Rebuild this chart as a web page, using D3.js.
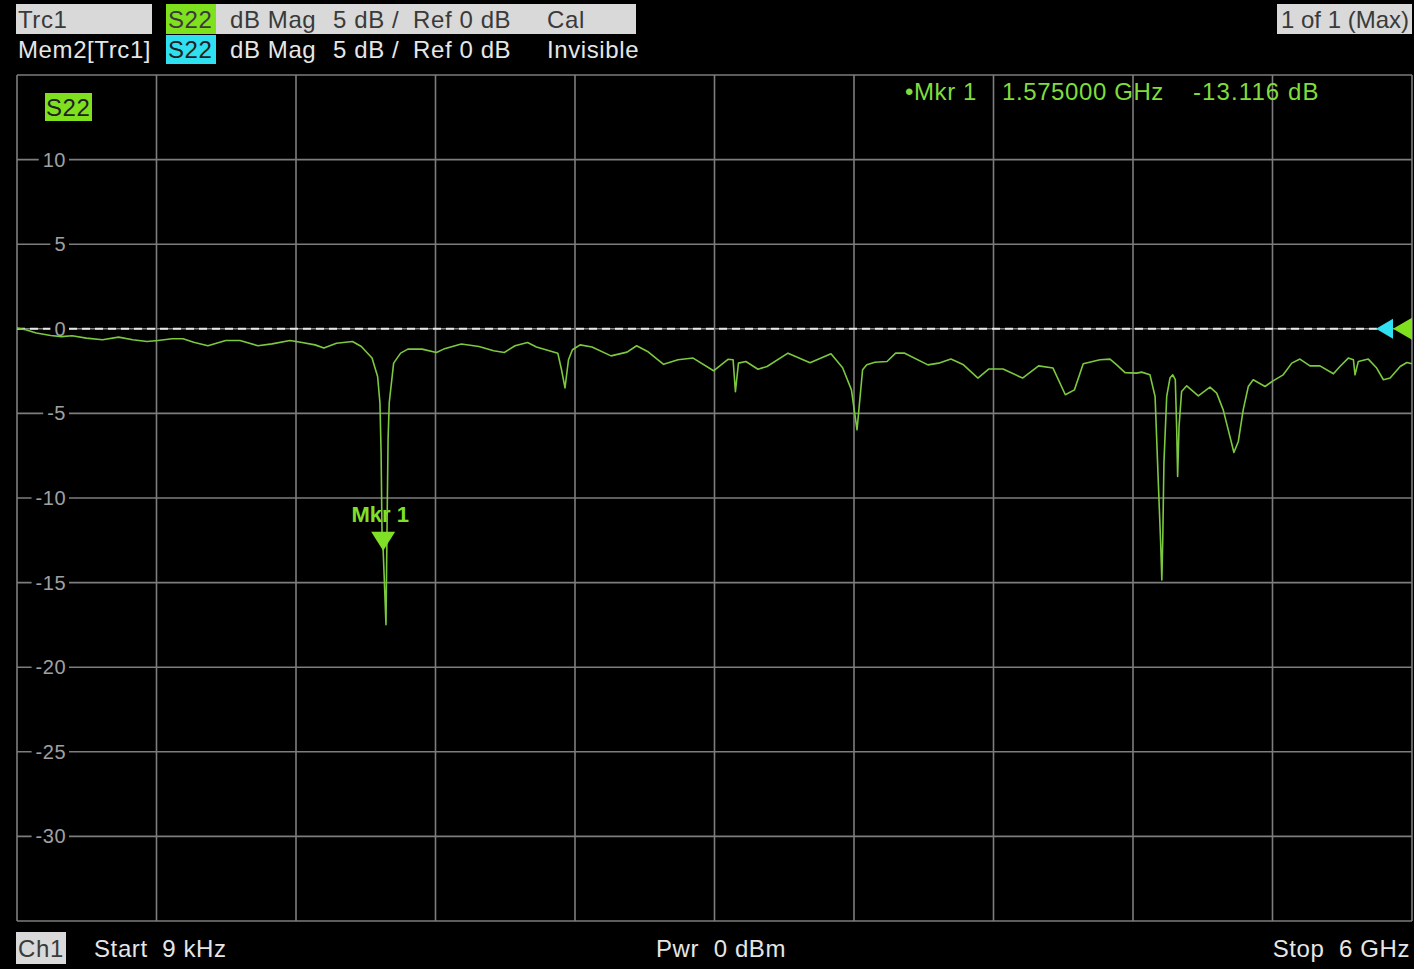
<!DOCTYPE html>
<html>
<head>
<meta charset="utf-8">
<script src="https://cdn.jsdelivr.net/npm/d3@7"></script>
<style>
  html, body { margin: 0; padding: 0; background: #ffffff; }
  svg { display: block; }
  .hdr { font-family: "Liberation Sans", Arial, sans-serif; font-size: 24px; letter-spacing: 0.6px; white-space: pre; }
  .tick { font-family: "Liberation Sans", Arial, sans-serif; font-size: 20px; fill: #a0a0a0; letter-spacing: 0.5px; }
</style>
</head>
<body>
<div class="canvas"></div>
<script>
// sweep: 9 kHz .. 6 GHz, S22 in dB
var startGHz = 0.000009, stopGHz = 6;
var freqGHz = [0.000009, 0.037, 0.083, 0.145, 0.191, 0.237, 0.298, 0.368, 0.437, 0.498, 0.559, 0.606, 0.667, 0.714, 0.760, 0.821, 0.898, 0.959, 1.036, 1.097,
  1.174, 1.220, 1.282, 1.320, 1.374, 1.443, 1.481, 1.527, 1.551, 1.561, 1.566, 1.570, 1.575, 1.579, 1.587, 1.591, 1.596, 1.601, 1.620, 1.650,
  1.681, 1.742, 1.804, 1.835, 1.911, 1.987, 2.050, 2.096, 2.142, 2.196, 2.234, 2.326, 2.342, 2.357, 2.372, 2.389, 2.422, 2.473, 2.555, 2.624,
  2.665, 2.712, 2.781, 2.843, 2.908, 2.996, 3.058, 3.080, 3.090, 3.103, 3.135, 3.187, 3.226, 3.316, 3.411, 3.501, 3.551, 3.589, 3.613, 3.637,
  3.655, 3.690, 3.742, 3.779, 3.818, 3.918, 3.964, 4.017, 4.071, 4.133, 4.179, 4.241, 4.325, 4.394, 4.456, 4.509, 4.548, 4.586, 4.658, 4.701,
  4.730, 4.766, 4.816, 4.837, 4.873, 4.895, 4.909, 4.919, 4.924, 4.928, 4.933, 4.945, 4.959, 4.971, 4.982, 4.988, 4.992, 4.998, 5.009, 5.031,
  5.081, 5.131, 5.160, 5.188, 5.217, 5.234, 5.253, 5.274, 5.296, 5.317, 5.368, 5.404, 5.446, 5.483, 5.518, 5.561, 5.604, 5.662, 5.690, 5.726,
  5.748, 5.755, 5.769, 5.812, 5.848, 5.877, 5.906, 5.949, 5.978, 6.000];
var magDb = [0.04, -0.06, -0.25, -0.40, -0.46, -0.41, -0.55, -0.65, -0.49, -0.65, -0.75, -0.69, -0.59, -0.59, -0.79, -1.00, -0.69, -0.69, -1.00, -0.89,
  -0.69, -0.79, -0.95, -1.14, -0.85, -0.75, -1.05, -1.73, -2.82, -4.37, -7.33, -12.06, -13.116, -14.54, -17.49, -12.47, -6.56, -4.37, -2.03, -1.44,
  -1.20, -1.20, -1.40, -1.20, -0.90, -1.05, -1.30, -1.40, -1.00, -0.81, -1.08, -1.44, -2.42, -3.49, -1.83, -1.24, -0.95, -1.08, -1.60, -1.38,
  -1.00, -1.34, -2.10, -1.83, -1.73, -2.48, -1.80, -1.83, -3.72, -2.03, -1.93, -2.39, -2.23, -1.44, -2.01, -1.48, -2.30, -3.61, -5.97, -2.42,
  -2.13, -1.98, -1.93, -1.44, -1.44, -2.13, -2.03, -1.79, -2.13, -2.91, -2.38, -2.38, -2.91, -2.19, -2.32, -3.90, -3.61, -2.07, -1.83, -1.79,
  -2.13, -2.59, -2.62, -2.56, -2.72, -4.00, -9.12, -12.67, -14.85, -12.47, -7.94, -4.00, -2.91, -2.72, -3.01, -5.97, -8.73, -5.77, -3.71, -3.37,
  -3.96, -3.45, -3.80, -4.79, -6.37, -7.31, -6.66, -4.79, -3.41, -3.01, -3.41, -3.06, -2.72, -2.03, -1.79, -2.19, -2.19, -2.66, -2.23, -1.73,
  -1.83, -2.72, -1.93, -1.79, -2.32, -3.01, -2.91, -2.23, -1.99, -2.07];

var yTicks = [10, 5, 0, -5, -10, -15, -20, -25, -30];
var refDb = 0;
var markerGHz = 1.575, markerDb = -13.116;

var W = 1428, H = 969;
var svg = d3.select(".canvas").append("svg")
            .attr("width", W)
            .attr("height", H);

svg.append("rect")
   .attr("x", 0).attr("y", 0)
   .attr("width", 1414).attr("height", H)
   .attr("fill", "#000");

var x = d3.scaleLinear().domain([startGHz, stopGHz]).range([17, 1412]);
var y = d3.scaleLinear().domain([-35, 15]).range([921, 75]);

// GRID
var grid = svg.append("g").attr("stroke", "#7d7d7d").attr("stroke-width", 1.6);
d3.range(0, 11).forEach(function(i){
  var f = startGHz + i * (stopGHz - startGHz) / 10;
  grid.append("line")
      .attr("x1", x(f)).attr("x2", x(f))
      .attr("y1", y(15)).attr("y2", y(-35));
});
d3.range(-35, 16, 5).forEach(function(v){
  grid.append("line")
      .attr("x1", x(startGHz)).attr("x2", x(stopGHz))
      .attr("y1", y(v)).attr("y2", y(v));
});

// REF LINE (dashed) + ref arrows
svg.append("line")
   .attr("x1", x(startGHz)).attr("x2", 1378)
   .attr("y1", y(refDb)).attr("y2", y(refDb))
   .attr("stroke", "#e8e8e8")
   .attr("stroke-width", 2)
   .attr("stroke-dasharray", "8,5");

var ry = y(refDb);
svg.append("path")
   .attr("d", "M1376," + ry + " L1393," + (ry - 10) + " L1393," + (ry + 10) + " Z")
   .attr("fill", "#30e0f0");
svg.append("path")
   .attr("d", "M1393," + ry + " L1412," + (ry - 11) + " L1412," + (ry + 11) + " Z")
   .attr("fill", "#7fe01e");

// Y TICK LABELS with black gap
yTicks.forEach(function(v){
  var t = svg.append("text")
     .attr("class", "tick")
     .attr("x", 66)
     .attr("y", y(v) + 7)
     .attr("text-anchor", "end")
     .text(v);
  var bb = t.node().getBBox();
  svg.insert("rect", function(){ return t.node(); })
     .attr("x", bb.x - 4).attr("y", y(v) - 3)
     .attr("width", bb.width + 7).attr("height", 6)
     .attr("fill", "#000");
});

// TRACE
var pts = freqGHz.map(function(f, i){ return [f, magDb[i]]; });
var line = d3.line()
             .x(function(d){ return x(d[0]); })
             .y(function(d){ return y(d[1]); });

svg.append("path")
   .datum(pts)
   .attr("d", line)
   .attr("fill", "none")
   .attr("stroke", "#7cc83e")
   .attr("stroke-width", 1.6)
   .attr("stroke-linejoin", "round");

// MARKER
var mx = x(markerGHz), my = y(markerDb);
svg.append("path")
   .attr("d", "M" + (mx - 12) + "," + (my - 19) + " L" + (mx + 12) + "," + (my - 19) + " L" + mx + "," + my + " Z")
   .attr("fill", "#80e028");
svg.append("text")
   .attr("x", mx - 3)
   .attr("y", my - 29)
   .attr("text-anchor", "middle")
   .style("font-family", "Liberation Sans, Arial, sans-serif")
   .style("font-size", "22px")
   .style("font-weight", "bold")
   .style("fill", "#80e028")
   .text("Mkr 1");

// marker readout
var readout = [
  {x: 905, text: "\u2022Mkr 1"},
  {x: 1002, text: "1.575000 GHz"},
  {x: 1193, text: markerDb.toFixed(3) + " dB"}
];
readout.forEach(function(r){
  svg.append("text")
     .attr("class", "hdr")
     .attr("x", r.x)
     .attr("y", 100)
     .style("fill", "#80dc3c")
     .style("letter-spacing", r.x > 1100 ? "1.1px" : null)
     .text(r.text);
});

// S22 tag in plot
svg.append("rect")
   .attr("x", 45).attr("y", 93).attr("width", 47).attr("height", 28)
   .attr("fill", "#7fe01e");
svg.append("text")
   .attr("class", "hdr")
   .attr("x", 46).attr("y", 116)
   .style("fill", "#202020")
   .text("S22");

// HEADER ROW 1
svg.append("rect").attr("x", 16).attr("y", 4).attr("width", 136).attr("height", 30).attr("fill", "#d9d9d9");
svg.append("rect").attr("x", 166).attr("y", 4).attr("width", 50).attr("height", 30).attr("fill", "#7fe01e");
svg.append("rect").attr("x", 216).attr("y", 4).attr("width", 420).attr("height", 30).attr("fill", "#d9d9d9");

var row1 = [
  {x: 18, text: "Trc1"},
  {x: 168, text: "S22"},
  {x: 230, text: "dB Mag"},
  {x: 333, text: "5 dB /"},
  {x: 413, text: "Ref 0 dB"},
  {x: 547, text: "Cal"}
];
row1.forEach(function(r){
  svg.append("text").attr("class", "hdr")
     .attr("x", r.x).attr("y", 28)
     .style("fill", "#3a3a3a")
     .text(r.text);
});

// HEADER ROW 2
svg.append("rect").attr("x", 166).attr("y", 35).attr("width", 50).attr("height", 29).attr("fill", "#2ee0f0");
var row2 = [
  {x: 18, text: "Mem2[Trc1]", c: "#e6e6e6"},
  {x: 168, text: "S22", c: "#202020"},
  {x: 230, text: "dB Mag", c: "#e6e6e6"},
  {x: 333, text: "5 dB /", c: "#e6e6e6"},
  {x: 413, text: "Ref 0 dB", c: "#e6e6e6"},
  {x: 547, text: "Invisible", c: "#e6e6e6"}
];
row2.forEach(function(r){
  svg.append("text").attr("class", "hdr")
     .attr("x", r.x).attr("y", 58)
     .style("fill", r.c)
     .text(r.text);
});

// top right
svg.append("rect").attr("x", 1277).attr("y", 4).attr("width", 135).attr("height", 30).attr("fill", "#d9d9d9");
svg.append("text").attr("class", "hdr")
   .attr("x", 1409).attr("y", 28)
   .attr("text-anchor", "end")
   .style("letter-spacing", "0px")
   .style("fill", "#3a3a3a")
   .text("1 of 1 (Max)");

// FOOTER
svg.append("rect").attr("x", 16).attr("y", 932).attr("width", 50).attr("height", 32).attr("fill", "#d9d9d9");
svg.append("text").attr("class", "hdr").attr("x", 18).attr("y", 957).style("fill", "#3a3a3a").text("Ch1");
svg.append("text").attr("class", "hdr").attr("x", 94).attr("y", 957).style("fill", "#e6e6e6").text("Start  9 kHz");
svg.append("text").attr("class", "hdr").attr("x", 656).attr("y", 957).style("fill", "#e6e6e6").text("Pwr  0 dBm");
svg.append("text").attr("class", "hdr").attr("x", 1410).attr("y", 957).attr("text-anchor", "end").style("fill", "#e6e6e6").text("Stop  6 GHz");
</script>
</body>
</html>
